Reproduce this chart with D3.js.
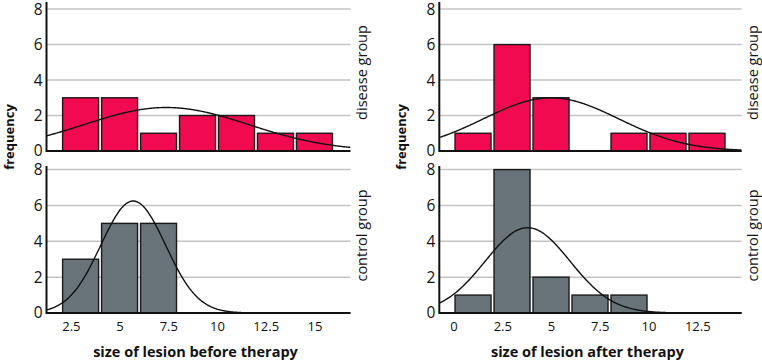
<!DOCTYPE html>
<html><head><meta charset="utf-8">
<script src="https://cdn.jsdelivr.net/npm/d3@7"></script>
<style>
html,body{margin:0;padding:0;background:#fff;}
svg{display:block;font-family:"Open Sans",sans-serif;}
</style></head>
<body><svg id="c" width="762" height="363"></svg>
<script>
// ---- data ----
const binEdgesBefore = [2, 4, 6, 8, 10, 12, 14, 16];
const binEdgesAfter  = [0, 2, 4, 6, 8, 10, 12, 14];
const diseaseBefore = [3, 3, 1, 2, 2, 1, 1];
const controlBefore = [3, 5, 5];
const diseaseAfter  = [1, 6, 3, 0, 1, 1, 1];
const controlAfter  = [1, 8, 2, 1, 1];
const xTicksBefore = [2.5, 5, 7.5, 10, 12.5, 15];
const xTicksAfter  = [0, 2.5, 5, 7.5, 10, 12.5];
const yTicks = [0, 2, 4, 6, 8];
// fitted normal curve parameters (mean, sd)
const fitDiseaseBefore = [7.4, 4.23];
const fitControlBefore = [5.7, 1.66];
const fitDiseaseAfter  = [5.0, 3.46];
const fitControlAfter  = [3.8, 2.18];
const groupLabels = ["disease group", "control group"];
const xTitles = ["size of lesion before therapy", "size of lesion after therapy"];
const yTitle = "frequency";

const RED = "#f20a50", GRAY = "#687479";
const svg = d3.select("#c");

const columns = [
  {x0: 46.5, x1: 350.5, dom: [1.25, 16.85], edges: binEdgesBefore, ticks: xTicksBefore, title: xTitles[0],
   panels: [{vals: diseaseBefore, fit: fitDiseaseBefore, color: RED}, {vals: controlBefore, fit: fitControlBefore, color: GRAY}]},
  {x0: 439.3, x1: 741.7, dom: [-0.73, 14.78], edges: binEdgesAfter, ticks: xTicksAfter, title: xTitles[1],
   panels: [{vals: diseaseAfter, fit: fitDiseaseAfter, color: RED}, {vals: controlAfter, fit: fitControlAfter, color: GRAY}]}
];
const rows = [{y0: 151, yTop: 2, dom: [0, 8.4]}, {y0: 313, yTop: 166, dom: [0, 8.2]}];

columns.forEach((col, ci) => {
  const x = d3.scaleLinear().domain(col.dom).range([col.x0, col.x1]);
  col.panels.forEach((p, ri) => {
    const r = rows[ri];
    const y = d3.scaleLinear().domain(r.dom).range([r.y0, r.yTop]);
    const g = svg.append("g");
    const clipId = "clip" + ci + ri;
    svg.append("clipPath").attr("id", clipId).append("rect")
      .attr("x", col.x0).attr("y", r.yTop).attr("width", col.x1 - col.x0).attr("height", r.y0 - r.yTop);
    // gridlines
    g.selectAll(".grid").data(yTicks.filter(d => d > 0)).join("line")
      .attr("x1", col.x0).attr("x2", col.x1).attr("y1", d => y(d)).attr("y2", d => y(d))
      .attr("stroke", "#c4c4c4").attr("stroke-width", 1.5);
    // bars
    const bins = p.vals.map((v, i) => ({a: col.edges[i], b: col.edges[i + 1], v}));
    g.selectAll(".bar").data(bins.filter(d => d.v > 0)).join("rect")
      .attr("x", d => x(d.a) + 1.5).attr("width", d => x(d.b) - x(d.a) - 3)
      .attr("y", d => y(d.v)).attr("height", d => y(0) - y(d.v))
      .attr("fill", p.color).attr("stroke", "#1a1a1a").attr("stroke-width", 1.4);
    // fitted normal curve
    const n = d3.sum(p.vals), bw = col.edges[1] - col.edges[0];
    const [mu, sd] = p.fit;
    const pts = d3.range(col.dom[0], col.dom[1] + 0.001, 0.05).map(t =>
      [t, n * bw * Math.exp(-((t - mu) ** 2) / (2 * sd * sd)) / (sd * Math.sqrt(2 * Math.PI))]);
    g.append("path").attr("clip-path", `url(#${clipId})`)
      .attr("d", d3.line().x(d => x(d[0])).y(d => y(d[1])).curve(d3.curveBasis)(pts))
      .attr("fill", "none").attr("stroke", "#111").attr("stroke-width", 1.4);
    // axes lines
    g.append("line").attr("x1", col.x0).attr("x2", col.x1).attr("y1", y(0)).attr("y2", y(0))
      .attr("stroke", "#111").attr("stroke-width", 2);
    g.append("line").attr("x1", col.x0).attr("x2", col.x0).attr("y1", r.yTop).attr("y2", y(0) + 1)
      .attr("stroke", "#111").attr("stroke-width", 2);
    // y tick labels
    const ya = g.append("g").attr("transform", `translate(${col.x0},0)`)
      .call(d3.axisLeft(y).tickValues(yTicks).tickFormat(d3.format("")).tickSize(0).tickPadding(4));
    ya.select(".domain").remove();
    ya.selectAll("text").attr("font-size", 15.5).attr("fill", "#111").attr("font-family", "Open Sans");
    // group label
    const gy = (r.y0 + r.yTop) / 2 - 4;
    g.append("text").attr("transform", `translate(${col.x1 + 16.5},${gy}) rotate(-90)`)
      .attr("text-anchor", "middle").attr("font-size", 14.5).attr("fill", "#111").text(groupLabels[ri]);
    if (ri === 1) {
      const xa = g.append("g").attr("transform", `translate(0,${y(0)})`)
        .call(d3.axisBottom(x).tickValues(col.ticks).tickFormat(d3.format("")).tickSize(0).tickPadding(9));
      xa.select(".domain").remove();
      xa.selectAll("text").attr("font-size", 13).attr("fill", "#111").attr("font-family", "Open Sans");
      g.append("text").attr("x", (col.x0 + col.x1) / 2 - 3).attr("y", 357)
        .attr("text-anchor", "middle").attr("font-size", 14.5).attr("font-weight", "bold")
        .attr("fill", "#111").text(col.title);
    }
  });
  svg.append("text").attr("transform", `translate(${col.x0 - 33},137) rotate(-90)`)
    .attr("text-anchor", "middle").attr("font-size", 13).attr("font-weight", "bold")
    .attr("fill", "#111").text(yTitle);
});
</script></body></html>
